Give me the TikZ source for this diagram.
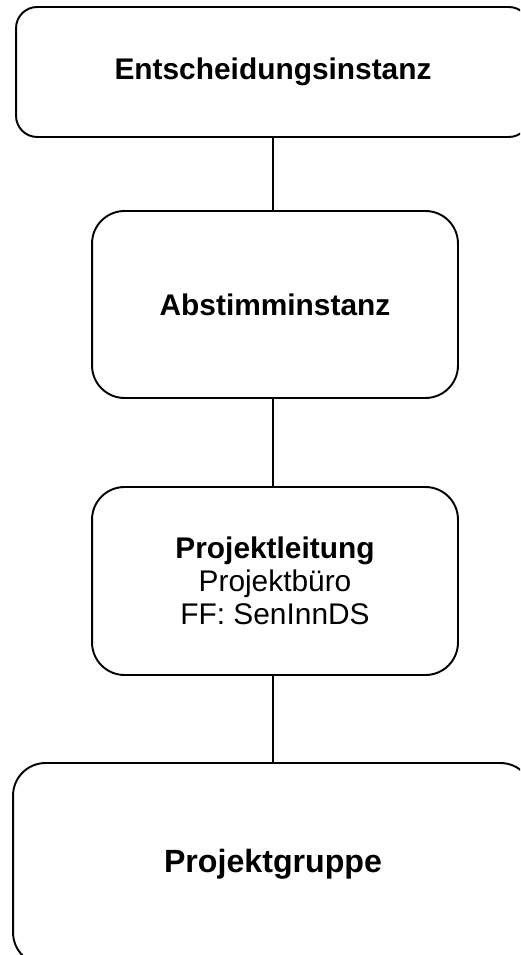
\documentclass[tikz,border=0pt]{standalone}
\usepackage{fontspec}
\setmainfont{Liberation Sans}
\usetikzlibrary{positioning}
\tikzset{
  instanzbox/.style={draw, line width=1.1pt, rounded corners=18.5pt, align=center,
    inner sep=0pt, font=\fontsize{17}{18.7}\selectfont},
  verbindung/.style={line width=1.1pt},
}

\begin{document}
\begin{tikzpicture}[x=0.02cm, y=-0.02cm]
              % Frame of the picture
              \useasboundingbox (0,0) rectangle (520,955);
              \clip (0,0) rectangle (520,955);

              % The four levels
              \node[instanzbox, rounded corners=12pt, minimum width=10.28cm, minimum height=2.6cm]
                (entscheidung) at (273,72) {\textbf{Entscheidungsinstanz}};
              \node[instanzbox, minimum width=7.32cm, minimum height=3.74cm]
                (abstimmung) at (275,304.5) {\textbf{Abstimminstanz}};
              \node[instanzbox, minimum width=7.32cm, minimum height=3.76cm]
                (leitung) at (275,581) {\textbf{Projektleitung}\\Projektbüro\\FF: SenInnDS};
              \node[instanzbox, font=\fontsize{18.3}{20}\selectfont, minimum width=10.4cm, minimum height=4.04cm]
                (gruppe) at (273,864) {\textbf{Projektgruppe}};

              % Connecting lines
              \draw[verbindung] (entscheidung.south) -- (entscheidung.south |- abstimmung.north);
              \draw[verbindung] (entscheidung.south |- abstimmung.south) -- (entscheidung.south |- leitung.north);
              \draw[verbindung] (entscheidung.south |- leitung.south) -- (gruppe.north);
            \end{tikzpicture}
\end{document}
